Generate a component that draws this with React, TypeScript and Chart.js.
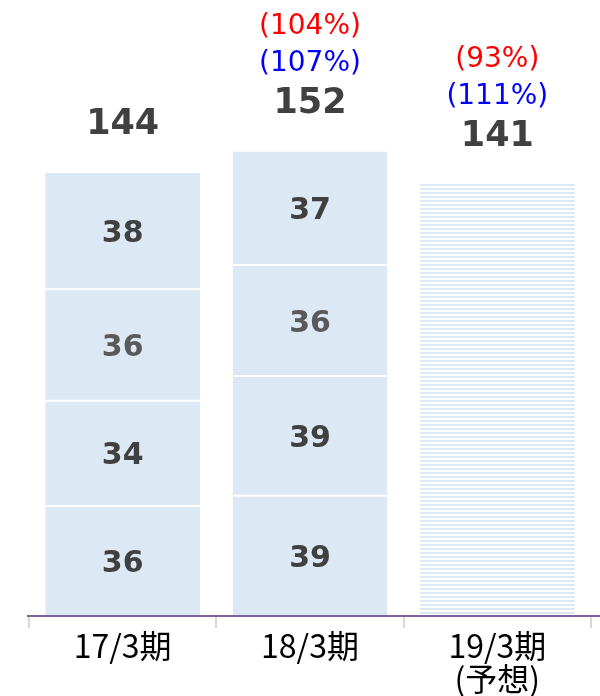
import React, { useEffect, useRef } from "react";
import { Chart, registerables } from "chart.js";

Chart.register(...registerables);

// ---- data ----
const categories: (string | string[])[] = ["17/3期", "18/3期", ["19/3期", "(予想)"]];
const segBottom: (number | null)[] = [35.9, 39.2, null];
const segSecond: (number | null)[] = [34.3, 39.1, null];
const segThird: (number | null)[] = [36.4, 36.2, null];
const segTop: (number | null)[] = [38.3, 37.3, null];
const forecast: (number | null)[] = [null, null, 141];
const totals = [144, 152, 141];
const ratioRed = ["", "(104%)", "(93%)"];
const ratioBlue = ["", "(107%)", "(111%)"];

const BAR_COLOR = "#dde8f5";
const AXIS_COLOR = "#7e649e";
const NUM_FONT = "'DejaVu Sans', sans-serif";

const labelPlugin = {
  id: "valueLabels",
  afterDatasetsDraw(chart: any) {
    const ctx: CanvasRenderingContext2D = chart.ctx;
    const xScale = chart.scales.x;
    ctx.save();
    ctx.textAlign = "center";
    ctx.textBaseline = "alphabetic";
    const stackTops: number[] = [];
    for (let d = 0; d < 5; d++) {
      const meta = chart.getDatasetMeta(d);
      meta.data.forEach((el: any, i: number) => {
        const v = chart.data.datasets[d].data[i];
        if (v == null) return;
        const p = el.getProps(["x", "y", "base"], true);
        stackTops[i] = stackTops[i] === undefined ? p.y : Math.min(stackTops[i], p.y);
        if (d === 4) return;
        const cy = (p.y + p.base) / 2;
        const size = 30;
        ctx.font = `bold ${size}px ${NUM_FONT}`;
        ctx.fillStyle = d === 2 ? "#595959" : "#404040";
        ctx.fillText(String(Math.round(v)), p.x, cy + 0.365 * size);
      });
    }
    totals.forEach((t, i) => {
      const x = xScale.getPixelForValue(i);
      const top = stackTops[i];
      const tSize = 35;
      ctx.font = `bold ${tSize}px ${NUM_FONT}`;
      ctx.fillStyle = "#404040";
      ctx.fillText(String(t), x, top - 51 + 0.365 * tSize);
      const pSize = 28;
      ctx.font = `${pSize}px ${NUM_FONT}`;
      if (ratioBlue[i]) {
        ctx.fillStyle = "#0000ff";
        ctx.fillText(ratioBlue[i], x, top - 90 + 0.365 * pSize);
      }
      if (ratioRed[i]) {
        ctx.fillStyle = "#ff0000";
        ctx.fillText(ratioRed[i], x, top - 127 + 0.365 * pSize);
      }
    });
    ctx.restore();
  },
  afterDraw(chart: any) {
    const ctx: CanvasRenderingContext2D = chart.ctx;
    const y = chart.chartArea.bottom;
    ctx.save();
    ctx.strokeStyle = AXIS_COLOR;
    ctx.lineWidth = 2;
    ctx.beginPath();
    ctx.moveTo(27, y);
    ctx.lineTo(chart.width, y);
    ctx.stroke();
    ctx.restore();
  },
};

export default function App() {
  const canvasRef = useRef<HTMLCanvasElement | null>(null);

  useEffect(() => {
    const canvas = canvasRef.current;
    if (!canvas) return;

    const pc = document.createElement("canvas");
    pc.width = 4;
    pc.height = 4;
    const pctx = pc.getContext("2d")!;
    pctx.fillStyle = "#ffffff";
    pctx.fillRect(0, 0, 4, 4);
    pctx.fillStyle = BAR_COLOR;
    pctx.fillRect(0, 0, 4, 2);
    const pattern = canvas.getContext("2d")!.createPattern(pc, "repeat");

    const segCommon = {
      backgroundColor: BAR_COLOR,
      borderColor: "#ffffff",
      borderWidth: { top: 1, bottom: 1, left: 0, right: 0 },
      borderSkipped: false,
      barPercentage: 0.827,
      categoryPercentage: 1,
    };

    const chart = new Chart(canvas, {
      type: "bar",
      data: {
        labels: categories,
        datasets: [
          { ...segCommon, label: "s1", data: segBottom },
          { ...segCommon, label: "s2", data: segSecond },
          { ...segCommon, label: "s3", data: segThird },
          { ...segCommon, label: "s4", data: segTop },
          {
            label: "forecast",
            data: forecast,
            backgroundColor: pattern as any,
            borderWidth: 0,
            barPercentage: 0.827,
            categoryPercentage: 1,
          },
        ] as any,
      },
      options: {
        responsive: false,
        animation: false,
        layout: { padding: { left: 29, right: 9, top: 0, bottom: 0 } },
        plugins: {
          legend: { display: false },
          tooltip: { enabled: false },
        },
        scales: {
          x: {
            stacked: true,
            offset: true,
            grid: {
              display: true,
              drawOnChartArea: false,
              drawTicks: true,
              tickLength: 12,
              color: "#d9d9d9",
              lineWidth: 2,
              offset: true,
            },
            border: { display: false },
            ticks: {
              color: "#000000",
              padding: 1,
              maxRotation: 0,
              autoSkip: false,
              font: { family: "'Noto Sans CJK JP', sans-serif", size: 32, lineHeight: 1.03 },
            },
            afterFit(scale: any) {
              scale.height = 80;
            },
          },
          y: {
            stacked: true,
            display: false,
            min: 0,
            max: 201,
          },
        },
      },
      plugins: [labelPlugin],
    });

    return () => chart.destroy();
  }, []);

  return (
    <div style={{ position: "absolute", left: 0, top: 0, width: 600, height: 696, background: "#ffffff" }}>
      <canvas ref={canvasRef} width={600} height={696} style={{ display: "block" }} />
    </div>
  );
}
